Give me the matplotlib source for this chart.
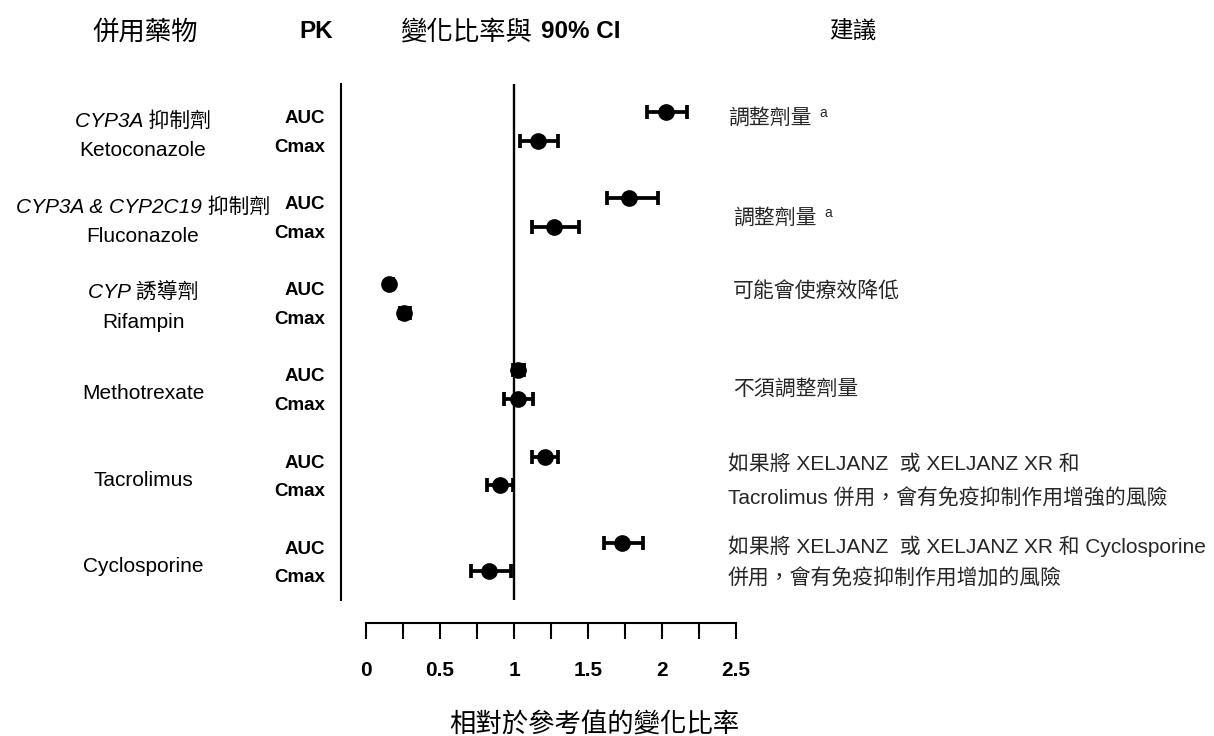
import matplotlib.pyplot as plt
from matplotlib.ticker import MultipleLocator

plt.rcParams['font.family'] = ['Liberation Sans', 'Noto Sans CJK TC']

W, H = 1214, 736

drugs = ['Ketoconazole', 'Fluconazole', 'Rifampin', 'Methotrexate', 'Tacrolimus', 'Cyclosporine']
classes = ['CYP3A 抑制劑', 'CYP3A & CYP2C19 抑制劑', 'CYP 誘導劑', '', '', '']
auc_ratio = [2.03, 1.78, 0.155, 1.025, 1.21, 1.73]
auc_lo = [1.90, 1.63, 0.14, 0.99, 1.12, 1.61]
auc_hi = [2.17, 1.97, 0.18, 1.07, 1.30, 1.87]
cmax_ratio = [1.16, 1.27, 0.257, 1.03, 0.905, 0.83]
cmax_lo = [1.04, 1.12, 0.23, 0.93, 0.82, 0.71]
cmax_hi = [1.30, 1.44, 0.30, 1.13, 0.99, 0.98]
pk_labels = ['AUC', 'Cmax']
recs = [
    ['調整劑量'],
    ['調整劑量'],
    ['可能會使療效降低'],
    ['不須調整劑量'],
    ['如果將 XELJANZ  或 XELJANZ XR 和', 'Tacrolimus 併用，會有免疫抑制作用增強的風險'],
    ['如果將 XELJANZ  或 XELJANZ XR 和 Cyclosporine', '併用，會有免疫抑制作用增加的風險'],
]
footnote = [True, True, False, False, False, False]
xticks = [0, 0.5, 1, 1.5, 2, 2.5]


def px(x, y):
    return x / W, 1 - y / H


fig = plt.figure(figsize=(W / 100, H / 100), dpi=100)
ax = fig.add_axes([341 / W, 1 - 600 / H, (736 - 341) / W, (600 - 84) / H])

# row positions: AUC and Cmax per drug, 3 units per group
y_auc = [3 * i for i in range(len(drugs))]
y_cmax = [3 * i + 1 for i in range(len(drugs))]

err_kw = dict(fmt='o', color='black', ms=11, elinewidth=2.7, capsize=4.8, capthick=2.7)
ax.errorbar(auc_ratio, y_auc,
            xerr=[[r - l for r, l in zip(auc_ratio, auc_lo)], [h - r for r, h in zip(auc_ratio, auc_hi)]],
            **err_kw)
ax.errorbar(cmax_ratio, y_cmax,
            xerr=[[r - l for r, l in zip(cmax_ratio, cmax_lo)], [h - r for r, h in zip(cmax_ratio, cmax_hi)]],
            **err_kw)
ax.axvline(1, color='black', lw=1.7)

ax.set_xlim(-25 / 148, 2.5)
ax.set_ylim(17.0, -0.98)
ax.spines['top'].set_visible(False)
ax.spines['right'].set_visible(False)
ax.spines['left'].set_linewidth(1.5)
ax.spines['bottom'].set_linewidth(1.5)
ax.spines['bottom'].set_position(('outward', 16.6))
ax.spines['bottom'].set_bounds(0, 2.5)
ax.set_yticks([])
ax.xaxis.set_minor_locator(MultipleLocator(0.25))
ax.set_xticks(xticks)
ax.set_xticklabels([f'{t:g}' for t in xticks], fontsize=15, fontweight='bold')
ax.tick_params(axis='x', which='both', direction='out', length=11.5, width=1.5, pad=16)

# left labels: PK rows and drug names
lab_kw = dict(xycoords=('figure fraction', 'data'), textcoords='offset points', annotation_clip=False)
for i, d in enumerate(drugs):
    for y, lab in zip([y_auc[i], y_cmax[i]], pk_labels):
        ax.annotate(lab, xy=(325 / W, y), xytext=(0, -11 * 0.72), ha='right', va='baseline',
                    fontsize=13.5, fontweight='bold', **lab_kw)
    if classes[i]:
        ax.annotate(classes[i], xy=(143 / W, y_auc[i]), xytext=(0, -15 * 0.72), ha='center',
                    va='baseline', fontsize=15, fontstyle='italic', **lab_kw)
        ax.annotate(d, xy=(143 / W, y_auc[i]), xytext=(0, -44 * 0.72), ha='center',
                    va='baseline', fontsize=15, **lab_kw)
    else:
        ax.annotate(d, xy=(143 / W, y_auc[i]), xytext=(0, -29 * 0.72), ha='center',
                    va='baseline', fontsize=15, **lab_kw)

# recommendations
rec_x = [728, 733, 733, 733, 728, 728]
rec_y = [[118], [218], [291], [389], [464, 499], [546, 579]]
for i, lines in enumerate(recs):
    for line, yy in zip(lines, rec_y[i]):
        fig.text(*px(rec_x[i], yy), line, ha='left', va='center', fontsize=15, color='#262626')
    if footnote[i]:
        fig.text(*px(rec_x[i] + 91, rec_y[i][0] - 5), 'a', ha='left', va='center',
                 fontsize=10, color='#262626')

# headers
fig.text(*px(145, 32), '併用藥物', ha='center', va='center', fontsize=19)
fig.text(*px(316, 32), 'PK', ha='center', va='center', fontsize=17.5, fontweight='bold')
fig.text(*px(400, 32), '變化比率與', ha='left', va='center', fontsize=19)
fig.text(*px(541, 32), '90% CI', ha='left', va='center', fontsize=17.5, fontweight='bold')
fig.text(*px(853, 32), '建議', ha='center', va='center', fontsize=17)

fig.text(*px(594, 724), '相對於參考值的變化比率', ha='center', va='center', fontsize=19)

fig.savefig('out.png', dpi=100)
